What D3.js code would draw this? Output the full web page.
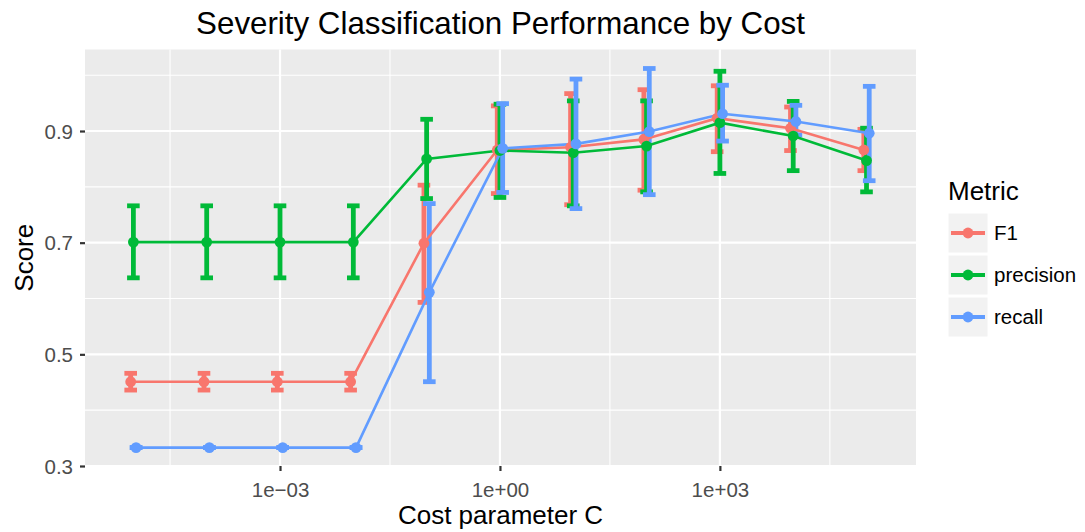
<!DOCTYPE html>
<html>
<head>
<meta charset="utf-8">
<script src="https://cdn.jsdelivr.net/npm/d3@7"></script>
<style>
    body { margin: 0; background: #fff; }
    text { font-family: "Liberation Sans", Arial, sans-serif; }
</style>
</head>
<body>
<div id="chart"></div>
<script>
// cost values (x), one entry per point
var costs = [1e-5, 1e-4, 1e-3, 1e-2, 1e-1, 1e0, 1e1, 1e2, 1e3, 1e4, 1e5];
var metrics = ["F1", "precision", "recall"];

var f1Mean = [0.451, 0.451, 0.451, 0.451, 0.699, 0.866, 0.871, 0.885, 0.923, 0.905, 0.866];
var f1Low  = [0.436, 0.436, 0.436, 0.436, 0.593, 0.788, 0.768, 0.794, 0.863, 0.865, 0.829];
var f1High = [0.466, 0.466, 0.466, 0.466, 0.803, 0.945, 0.967, 0.974, 0.981, 0.943, 0.903];

var precisionMean = [0.701, 0.701, 0.701, 0.701, 0.850, 0.865, 0.861, 0.873, 0.915, 0.891, 0.847];
var precisionLow  = [0.637, 0.637, 0.637, 0.637, 0.779, 0.781, 0.766, 0.791, 0.824, 0.829, 0.791];
var precisionHigh = [0.766, 0.766, 0.766, 0.766, 0.921, 0.948, 0.954, 0.954, 1.007, 0.953, 0.905];

var recallMean = [0.333, 0.333, 0.333, 0.333, 0.611, 0.869, 0.877, 0.899, 0.931, 0.917, 0.896];
var recallLow  = [0.333, 0.333, 0.333, 0.333, 0.451, 0.790, 0.761, 0.786, 0.882, 0.893, 0.811];
var recallHigh = [0.333, 0.333, 0.333, 0.333, 0.770, 0.949, 0.993, 1.012, 0.982, 0.946, 0.980];

var xTicks = [1e-3, 1e0, 1e3];
var xTickLabels = ["1e\u221203", "1e+00", "1e+03"];
var xMinor = [Math.pow(10, -4.5), Math.pow(10, -1.5), Math.pow(10, 1.5), Math.pow(10, 4.5)];
var yTicks = [0.3, 0.5, 0.7, 0.9];
var yMinor = [0.4, 0.6, 0.8, 1.0];

var colors = {"F1": "#F8766D", "precision": "#00BA38", "recall": "#619CFF"};
var dodge = {"F1": -2.7, "precision": 0, "recall": 2.7};

function buildData() {
    let means = {"F1": f1Mean, "precision": precisionMean, "recall": recallMean};
    let lows = {"F1": f1Low, "precision": precisionLow, "recall": recallLow};
    let highs = {"F1": f1High, "precision": precisionHigh, "recall": recallHigh};
    return metrics.map(function(m) {
        return {
            metric: m,
            values: costs.map(function(c, i) {
                return {cost: c, score: means[m][i], lo: lows[m][i], hi: highs[m][i]};
            })
        };
    });
}

function drawChart() {
    var W = 1085, H = 532;
    var left = 85, right = 916, top = 49.5, bottom = 466;

    var svg = d3.select("#chart").append("svg")
        .attr("width", W)
        .attr("height", H);

    var x = d3.scaleLog()
        .domain([Math.pow(10, -5.66), Math.pow(10, 5.675)])
        .range([left, right]);
    var y = d3.scaleLinear()
        .domain([0.3, 1.046])
        .range([bottom, top]);

    // panel + grid
    svg.append("rect")
        .attr("x", left).attr("y", top)
        .attr("width", right - left).attr("height", bottom - top)
        .attr("fill", "#EBEBEB");

    var grid = svg.append("g");
    grid.selectAll(".yminor").data(yMinor).enter().append("line")
        .attr("x1", left).attr("x2", right)
        .attr("y1", d => y(d)).attr("y2", d => y(d))
        .attr("stroke", "#fff").attr("stroke-width", 1.1);
    grid.selectAll(".xminor").data(xMinor).enter().append("line")
        .attr("y1", top).attr("y2", bottom)
        .attr("x1", d => x(d)).attr("x2", d => x(d))
        .attr("stroke", "#fff").attr("stroke-width", 1.1);
    grid.selectAll(".ymajor").data(yTicks).enter().append("line")
        .attr("x1", left).attr("x2", right)
        .attr("y1", d => y(d)).attr("y2", d => y(d))
        .attr("stroke", "#fff").attr("stroke-width", 2.2);
    grid.selectAll(".xmajor").data(xTicks).enter().append("line")
        .attr("y1", top).attr("y2", bottom)
        .attr("x1", d => x(d)).attr("x2", d => x(d))
        .attr("stroke", "#fff").attr("stroke-width", 2.2);

    var data = buildData();
    var px = function(m, d) { return x(d.cost) + dodge[m]; };

    // error bars
    data.forEach(function(s) {
        var g = svg.append("g")
            .attr("stroke", colors[s.metric])
            .attr("stroke-width", 4.8)
            .attr("fill", "none");
        g.selectAll(".v").data(s.values).enter().append("line")
            .attr("x1", d => px(s.metric, d)).attr("x2", d => px(s.metric, d))
            .attr("y1", d => y(d.lo)).attr("y2", d => y(d.hi));
        g.selectAll(".capTop").data(s.values).enter().append("line")
            .attr("x1", d => px(s.metric, d) - 6.3).attr("x2", d => px(s.metric, d) + 6.3)
            .attr("y1", d => y(d.hi)).attr("y2", d => y(d.hi));
        g.selectAll(".capBot").data(s.values).enter().append("line")
            .attr("x1", d => px(s.metric, d) - 6.3).attr("x2", d => px(s.metric, d) + 6.3)
            .attr("y1", d => y(d.lo)).attr("y2", d => y(d.lo));
    });

    // lines
    data.forEach(function(s) {
        var line = d3.line()
            .x(d => px(s.metric, d))
            .y(d => y(d.score));
        svg.append("path")
            .datum(s.values)
            .attr("d", line)
            .attr("fill", "none")
            .attr("stroke", colors[s.metric])
            .attr("stroke-width", 2.6);
    });

    // points
    data.forEach(function(s) {
        svg.append("g").selectAll("circle").data(s.values).enter().append("circle")
            .attr("cx", d => px(s.metric, d))
            .attr("cy", d => y(d.score))
            .attr("r", 5.4)
            .attr("fill", colors[s.metric]);
    });

    // axes
    var yAxis = d3.axisLeft(y).tickValues(yTicks).tickSize(5)
        .tickFormat(d3.format(".1f"));
    var xAxis = d3.axisBottom(x).tickValues(xTicks).tickSize(5)
        .tickFormat((d, i) => xTickLabels[i]);

    var ya = svg.append("g").attr("transform", "translate(" + left + ",0)").call(yAxis);
    var xa = svg.append("g").attr("transform", "translate(0," + bottom + ")").call(xAxis);
    [ya, xa].forEach(function(a) {
        a.select(".domain").remove();
        a.selectAll(".tick line").attr("stroke", "#333").attr("stroke-width", 2.2);
        a.selectAll(".tick text")
            .attr("fill", "#4D4D4D")
            .style("font-family", "'Liberation Sans', Arial, sans-serif")
            .style("font-size", "20.5px");
    });
    ya.selectAll(".tick text").attr("x", -12).attr("dy", "0.35em");
    xa.selectAll(".tick text").attr("y", 31).attr("dy", 0);

    // titles
    var midX = (left + right) / 2;
    svg.append("text")
        .attr("x", midX).attr("y", 34)
        .style("text-anchor", "middle")
        .style("font-size", "31.3px")
        .text("Severity Classification Performance by Cost");
    svg.append("text")
        .attr("x", midX).attr("y", 523.5)
        .style("text-anchor", "middle")
        .style("font-size", "26px")
        .text("Cost parameter C");
    svg.append("text")
        .attr("transform", "translate(33," + ((top + bottom) / 2) + ") rotate(-90)")
        .style("text-anchor", "middle")
        .style("font-size", "26px")
        .text("Score");

    // legend
    var lg = svg.append("g").attr("transform", "translate(948,0)");
    lg.append("text")
        .attr("x", 0).attr("y", 200)
        .style("font-size", "26px")
        .text("Metric");
    metrics.forEach(function(m, i) {
        var ky = 213 + i * 42;
        lg.append("rect")
            .attr("x", 0).attr("y", ky)
            .attr("width", 40).attr("height", 40)
            .attr("fill", "#F2F2F2")
            .attr("stroke", "#fff").attr("stroke-width", 1);
        lg.append("line")
            .attr("x1", 3).attr("x2", 37)
            .attr("y1", ky + 20).attr("y2", ky + 20)
            .attr("stroke", colors[m]).attr("stroke-width", 4);
        lg.append("circle")
            .attr("cx", 20).attr("cy", ky + 20).attr("r", 5.4)
            .attr("fill", colors[m]);
        lg.append("text")
            .attr("x", 46).attr("y", ky + 20)
            .attr("dy", "0.35em")
            .style("font-size", "20.5px")
            .text(m);
    });
}

drawChart();
</script>
</body>
</html>
